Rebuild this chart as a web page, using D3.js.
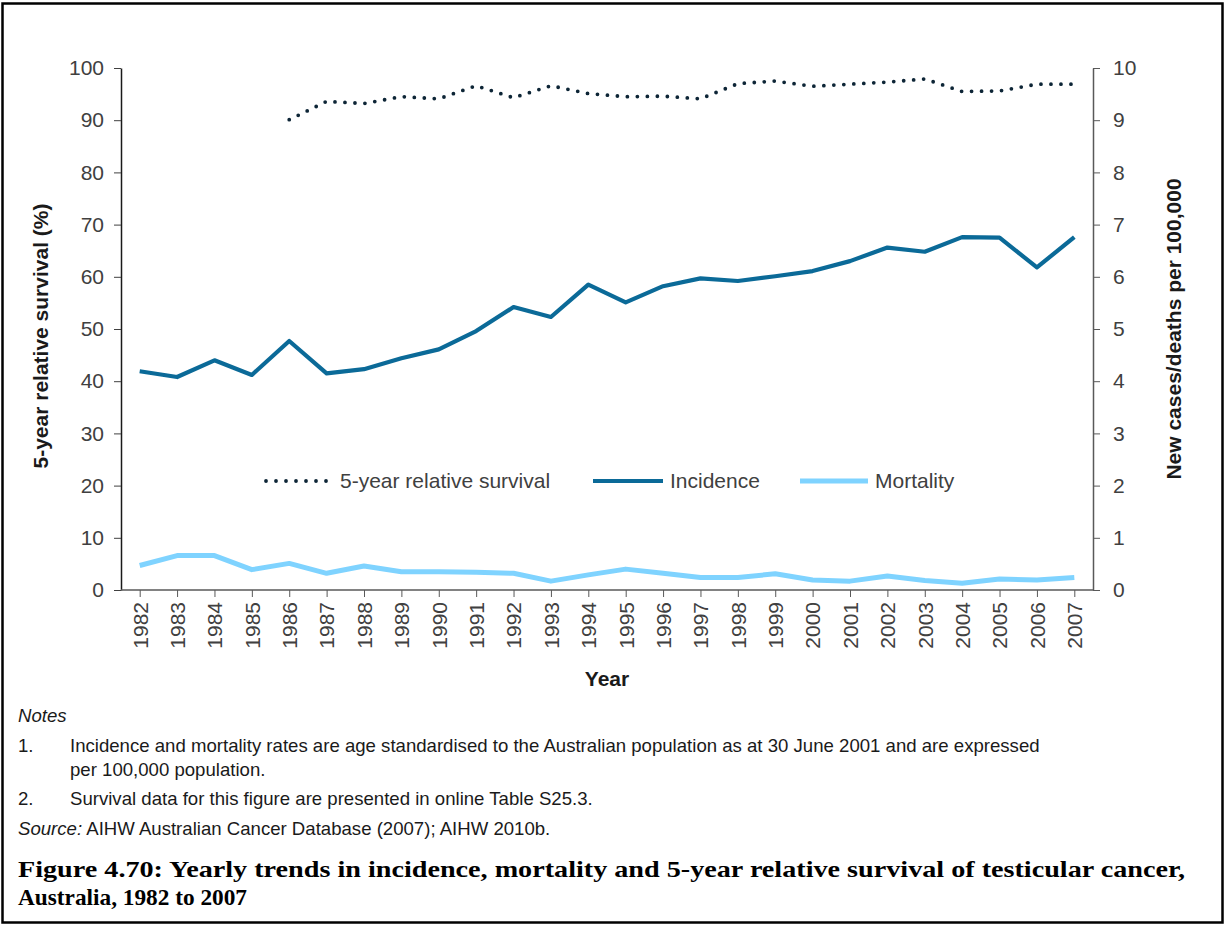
<!DOCTYPE html>
<html><head><meta charset="utf-8">
<script src="https://cdn.jsdelivr.net/npm/d3@7"></script>
<style>body{margin:0;background:#fff}svg{display:block}</style>
</head><body>
<svg id="c" width="1226" height="927"></svg>
<script>
const years = ["1982","1983","1984","1985","1986","1987","1988","1989","1990","1991","1992","1993","1994","1995","1996","1997","1998","1999","2000","2001","2002","2003","2004","2005","2006","2007"];
const survival = [null,null,null,null,90.1,93.6,93.2,94.5,94.1,96.6,94.3,96.6,95.1,94.5,94.6,94.1,97.0,97.5,96.5,96.9,97.3,97.9,95.5,95.6,96.9,96.9];
const incidence = [4.19,4.08,4.40,4.12,4.77,4.15,4.23,4.44,4.61,4.96,5.42,5.23,5.85,5.51,5.82,5.97,5.92,6.01,6.11,6.30,6.56,6.48,6.76,6.75,6.18,6.76];
const mortality = [0.47,0.66,0.66,0.39,0.51,0.32,0.46,0.35,0.35,0.34,0.32,0.17,0.29,0.40,0.32,0.24,0.24,0.31,0.19,0.17,0.27,0.18,0.13,0.21,0.19,0.24];
const leftTicks = [0,10,20,30,40,50,60,70,80,90,100];
const rightTicks = [0,1,2,3,4,5,6,7,8,9,10];
const legendLabels = ["5-year relative survival","Incidence","Mortality"];

const svg = d3.select("#c");
const L = 121, R = 1093, T = 68, B = 590;
const x = d3.scalePoint().domain(years).range([L, R]).padding(0.5);
const yL = d3.scaleLinear().domain([0,100]).range([B, T]);
const yR = d3.scaleLinear().domain([0,10]).range([B, T]);
const sans = "'Liberation Sans', Arial, sans-serif";

// frame
svg.append("rect").attr("x",2.5).attr("y",3.5).attr("width",1220).attr("height",919)
  .attr("fill","none").attr("stroke","#000").attr("stroke-width",2.5);

// axes
const gL = svg.append("g").attr("transform",`translate(${L},0)`)
  .call(d3.axisLeft(yL).tickValues(leftTicks).tickSize(7).tickSizeOuter(0).tickPadding(10));
const gR = svg.append("g").attr("transform",`translate(${R},0)`)
  .call(d3.axisRight(yR).tickValues(rightTicks).tickSize(7).tickSizeOuter(0).tickPadding(13));
const gX = svg.append("g").attr("transform",`translate(0,${B})`)
  .call(d3.axisBottom(x).tickSize(7).tickSizeOuter(0));
[gL,gR,gX].forEach(g=>{
  g.selectAll("text").attr("font-family",sans).attr("font-size",21).attr("fill","#404040");
});
gL.select(".domain").attr("stroke","#1a1a1a").attr("stroke-width",1.5);
gL.selectAll(".tick line").attr("stroke","#404040");
gR.select(".domain").attr("stroke","#595959").attr("stroke-width",1.5);
gR.selectAll(".tick line").attr("stroke","#595959");
gX.select(".domain").attr("stroke","#595959").attr("stroke-width",1.5).attr("d",`M${L},0H${R}`);
gX.selectAll(".tick line").attr("stroke","#595959");
gX.selectAll("text").attr("transform","rotate(-90)").attr("text-anchor","end")
  .attr("x",-12).attr("y",0).attr("dy","0.35em");

// axis titles
svg.append("text").attr("transform","translate(48,336) rotate(-90)").attr("text-anchor","middle")
  .attr("font-family",sans).attr("font-size",21).attr("font-weight","bold").attr("fill","#1a1a1a")
  .text("5-year relative survival (%)");
svg.append("text").attr("transform","translate(1181,329) rotate(-90)").attr("text-anchor","middle")
  .attr("font-family",sans).attr("font-size",21).attr("font-weight","bold").attr("fill","#1a1a1a")
  .text("New cases/deaths per 100,000");
svg.append("text").attr("x",607).attr("y",686).attr("text-anchor","middle")
  .attr("font-family",sans).attr("font-size",21).attr("font-weight","bold").attr("fill","#1a1a1a")
  .text("Year");

// lines
const idx = years.map((d,i)=>i);
const lineMort = d3.line().x(i=>x(years[i])).y(i=>yR(mortality[i]));
const lineInc = d3.line().x(i=>x(years[i])).y(i=>yR(incidence[i]));
const lineSurv = d3.line().defined(i=>survival[i]!=null).x(i=>x(years[i])).y(i=>yL(survival[i]));
svg.append("path").attr("d",lineMort(idx)).attr("fill","none").attr("stroke","#7fd3ff").attr("stroke-width",5).attr("stroke-linejoin","round");
svg.append("path").attr("d",lineInc(idx)).attr("fill","none").attr("stroke","#0b6a98").attr("stroke-width",4.2).attr("stroke-linejoin","round");
svg.append("path").attr("d",lineSurv(idx)).attr("fill","none").attr("stroke","#0d2536").attr("stroke-width",3.8)
  .attr("stroke-dasharray","0,10").attr("stroke-linecap","round");

// legend
const ly = 481;
const leg = [
  {x1:266,x2:330,tx:340,stroke:"#0d2536",w:3.8,dash:"0,10",cap:"round"},
  {x1:593,x2:663,tx:670,stroke:"#0b6a98",w:4.2,dash:null,cap:"butt"},
  {x1:800,x2:868,tx:875,stroke:"#7fd3ff",w:5,dash:null,cap:"butt"}
];
leg.forEach((d,i)=>{
  svg.append("line").attr("x1",d.x1).attr("x2",d.x2).attr("y1",ly).attr("y2",ly)
    .attr("stroke",d.stroke).attr("stroke-width",d.w).attr("stroke-dasharray",d.dash).attr("stroke-linecap",d.cap);
  svg.append("text").attr("x",d.tx).attr("y",ly).attr("dy","0.35em")
    .attr("font-family",sans).attr("font-size",21).attr("fill","#404040").text(legendLabels[i]);
});

// notes
const nfs = 18.6;
const note = (xx,yy,txt,style)=>svg.append("text").attr("x",xx).attr("y",yy)
  .attr("font-family",sans).attr("font-size",nfs).attr("fill","#1a1a1a").attr("font-style",style||null).text(txt);
note(18,722,"Notes","italic");
note(18,752,"1.");
note(70,752,"Incidence and mortality rates are age standardised to the Australian population as at 30 June 2001 and are expressed");
note(70,776,"per 100,000 population.");
note(18,805,"2.");
note(70,805,"Survival data for this figure are presented in online Table S25.3.");
const src = svg.append("text").attr("x",18).attr("y",835).attr("font-family",sans).attr("font-size",nfs).attr("fill","#1a1a1a");
src.append("tspan").attr("font-style","italic").text("Source:");
src.append("tspan").text(" AIHW Australian Cancer Database (2007); AIHW 2010b.");

// caption
const serif = "'Liberation Serif','DejaVu Serif',serif";
svg.append("text").attr("x",18).attr("y",877).attr("font-family",serif).attr("font-size",24).attr("font-weight","bold")
  .attr("fill","#000").attr("textLength",1167).attr("lengthAdjust","spacingAndGlyphs")
  .text("Figure 4.70: Yearly trends in incidence, mortality and 5-year relative survival of testicular cancer,");
svg.append("text").attr("x",18).attr("y",905).attr("font-family",serif).attr("font-size",24).attr("font-weight","bold")
  .attr("fill","#000").attr("textLength",229).attr("lengthAdjust","spacingAndGlyphs")
  .text("Australia, 1982 to 2007");
</script>
</body></html>
